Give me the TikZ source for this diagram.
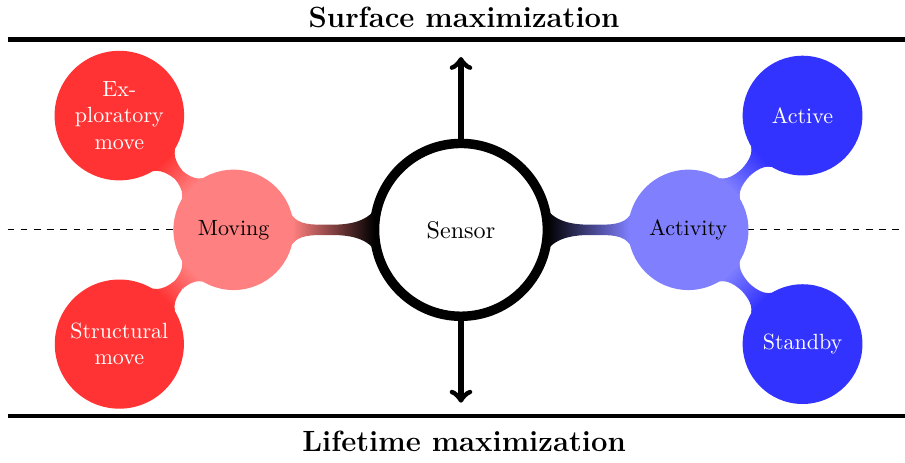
\documentclass[tikz,border=0pt]{standalone}
\usetikzlibrary{mindmap}
\begin{document}
\begin{tikzpicture}[
			title/.style={font=\fontsize{13.3}{16}\selectfont\bfseries},
			limit/.style={line width=2pt},
			goal/.style={line width=2.5pt, ->},
			bigleaf/.style={minimum size=2.02cm}]
			\useasboundingbox (-7.36,-3.71) rectangle (7.09,3.67);

			% trade-off axis
			\coordinate (axisleft) at (-7.24,0);
			\coordinate (axisright) at (7.09,0);
			\draw[dashed] (axisleft) -- (axisright);

			\begin{scope}[mindmap,
			every node/.style={concept, execute at begin node=\hskip0pt},
			root concept/.append style={concept color=black, fill=white, line width=1ex, text=black,
				minimum size=2.76cm, text width=2.4cm, font=\fontsize{10.95}{13.6}\selectfont},
			level 1/.append style={level distance=3.63cm},
			level 2/.append style={level distance=2.58cm},
			level 1 concept/.append style={text=black, minimum size=1.88cm, text width=1.6cm, font=\normalsize},
			level 2 concept/.append style={text=white, minimum size=1.87cm, text width=1.6cm, font=\normalsize}]

			\node[root concept] (sensor) {Sensor}
				child [concept color=red!50, grow=180] {node (moving) {Moving}
					child [concept color=red!80, grow=135] {node[bigleaf] (explore) {Exploratory move}}
					child [concept color=red!80, grow=225] {node[bigleaf] (structural) {Structural move}}
				}
				child [concept color=blue!50, grow=0] {node (activity) {Activity}
					child [concept color=blue!80, grow=45] {node (active) {Active}}
					child [concept color=blue!80, grow=-45] {node (standby) {Standby}}
				};
			\end{scope}

			% objectives
			\coordinate (surface) at (0,2.76);
			\coordinate (lifetime) at (0,-2.76);
			\draw[goal] (sensor.north) -- (surface);
			\draw[goal] (sensor.south) -- (lifetime);

			\coordinate (topleft) at (-7.24,3.04);
			\coordinate (topright) at (7.09,3.04);
			\coordinate (bottomleft) at (-7.24,-2.97);
			\coordinate (bottomright) at (7.09,-2.97);
			\draw[limit] (topleft) -- (topright);
			\draw[limit] (bottomleft) -- (bottomright);

			\node[title] (surfacetitle) at (0.05,3.39) {Surface maximization};
			\node[title] (lifetimetitle) at (0.05,-3.37) {Lifetime maximization};
\end{tikzpicture}
\end{document}
